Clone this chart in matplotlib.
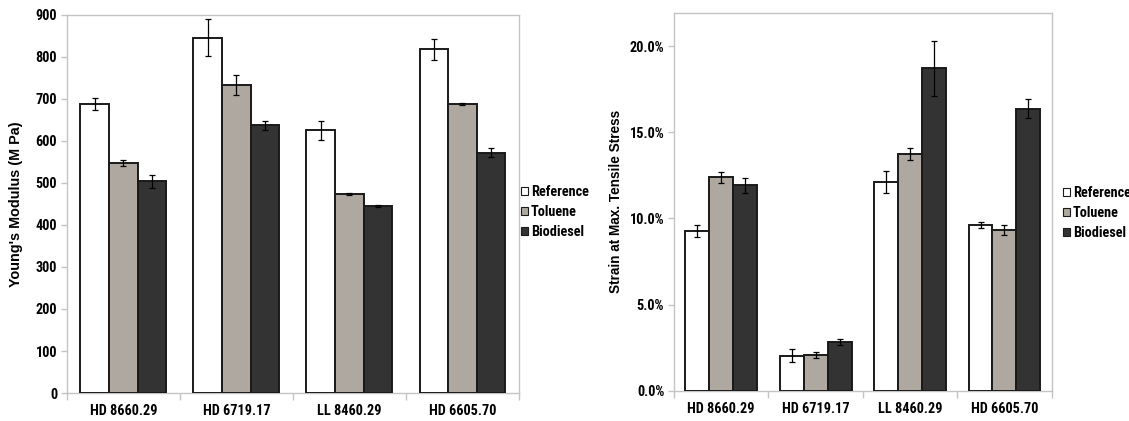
import numpy as np
import matplotlib
matplotlib.use("Agg")
import matplotlib.pyplot as plt
from matplotlib.ticker import FixedLocator, PercentFormatter

samples = ["HD 8660.29", "HD 6719.17", "LL 8460.29", "HD 6605.70"]
series = ["Reference", "Toluene", "Biodiesel"]
colors = ["#ffffff", "#aea8a0", "#333333"]

# Young's modulus (MPa) and standard deviations
modulus_ref = [688, 846, 625, 818]
modulus_tol = [548, 733, 474, 688]
modulus_bio = [504, 637, 445, 572]
modulus_ref_err = [14, 44, 22, 26]
modulus_tol_err = [7, 23, 3, 2]
modulus_bio_err = [15, 10, 2, 11]

# Strain at maximum tensile stress (%) and standard deviations
strain_ref = [9.26, 2.05, 12.14, 9.64]
strain_tol = [12.39, 2.10, 13.76, 9.33]
strain_bio = [11.92, 2.86, 18.70, 16.37]
strain_ref_err = [0.35, 0.36, 0.64, 0.17]
strain_tol_err = [0.31, 0.18, 0.35, 0.30]
strain_bio_err = [0.45, 0.17, 1.57, 0.56]

narrow = ["Roboto Condensed", "Fira Sans Condensed", "Liberation Sans", "DejaVu Sans"]
wide = ["Liberation Sans", "DejaVu Sans"]
grey = "#c4c4c4"

fig = plt.figure(figsize=(11.29, 4.21), dpi=100)
ax1 = fig.add_axes([0.0591, 0.0665, 0.4006, 0.8979])
ax2 = fig.add_axes([0.5970, 0.0713, 0.3345, 0.8985])


def draw(ax, vals, errs, ymax, yticks, ylabel, label_size, fmt=None):
    n = len(samples)
    x = np.arange(n)
    w = 0.76 / 3
    handles = []
    for i, (v, e, c) in enumerate(zip(vals, errs, colors)):
        pos = x + (i - 1) * w
        b = ax.bar(pos, v, width=w, color=c, edgecolor="#1a1a1a",
                   linewidth=1.4, zorder=3, label=series[i])
        ax.errorbar(pos, v, yerr=e, fmt="none", ecolor="black",
                    elinewidth=0.9, capsize=2.3, capthick=0.9, zorder=4)
        handles.append(b)
    ax.set_xlim(-0.5, n - 0.5)
    ax.set_ylim(0, ymax)
    ax.set_yticks(yticks)
    if fmt is not None:
        ax.yaxis.set_major_formatter(fmt)
    ax.xaxis.set_major_locator(FixedLocator(np.arange(n + 1) - 0.5))
    ax.xaxis.set_minor_locator(FixedLocator(x))
    ax.set_xticklabels([], minor=False)
    ax.set_xticklabels(samples, minor=True)
    ax.tick_params(axis="x", which="major", length=5, color=grey, width=1)
    ax.tick_params(axis="x", which="minor", length=0, pad=8)
    ax.tick_params(axis="y", length=4, color=grey, width=1, pad=3)
    for lab in ax.get_xticklabels(minor=True) + ax.get_yticklabels():
        lab.set_fontfamily(narrow)
        lab.set_fontweight("bold")
        lab.set_fontsize(10.3)
    for s in ax.spines.values():
        s.set_color(grey)
        s.set_linewidth(1)
    ax.set_ylabel(ylabel, fontfamily=wide, fontweight="bold",
                  fontsize=label_size)
    return handles


h1 = draw(ax1, [modulus_ref, modulus_tol, modulus_bio],
          [modulus_ref_err, modulus_tol_err, modulus_bio_err],
          900, np.arange(0, 901, 100), "Young's Modulus (M Pa)", 10.4)
ax1.yaxis.set_label_coords(-0.097, 0.5)

h2 = draw(ax2, [strain_ref, strain_tol, strain_bio],
          [strain_ref_err, strain_tol_err, strain_bio_err],
          21.93, np.arange(0, 20.1, 5), "Strain at Max. Tensile Stress", 9.8,
          fmt=PercentFormatter(decimals=1))
ax2.yaxis.set_label_coords(-0.136, 0.5)

legend_font = {"family": narrow, "weight": "bold", "size": 10.3}
for handles, anchor in ((h1, (0.4612, 0.496)), (h2, (0.9415, 0.494))):
    leg = fig.legend(handles=handles, labels=series, loc="center left",
                     bbox_to_anchor=anchor, frameon=False, prop=legend_font,
                     handlelength=0.5, handleheight=0.5, handletextpad=0.2,
                     labelspacing=0.42, borderaxespad=0, borderpad=0)
    for p in leg.get_patches():
        p.set_linewidth(0.8)

fig.savefig("out.png", dpi=100)
